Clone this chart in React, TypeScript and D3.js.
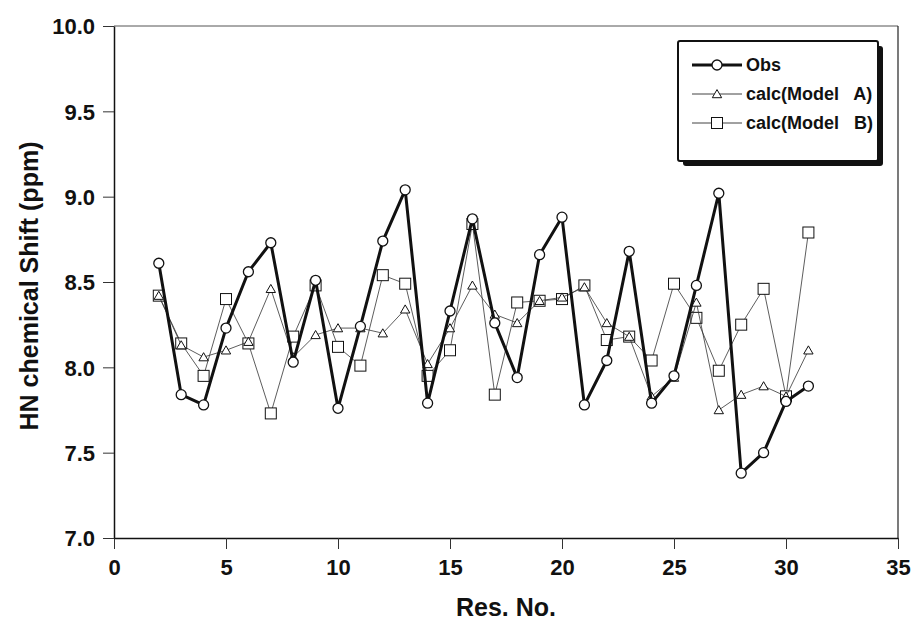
import React, { useEffect, useRef } from "react";
import * as d3 from "d3";

// residue numbers along the x axis
const resNo = [2, 3, 4, 5, 6, 7, 8, 9, 10, 11, 12, 13, 14, 15, 16, 17, 18, 19, 20, 21, 22, 23, 24, 25, 26, 27, 28, 29, 30, 31];

// observed HN shifts (ppm)
const obs = [8.61, 7.84, 7.78, 8.23, 8.56, 8.73, 8.03, 8.51, 7.76, 8.24, 8.74, 9.04, 7.79, 8.33, 8.87, 8.26, 7.94, 8.66, 8.88, 7.78, 8.04, 8.68, 7.79, 7.95, 8.48, 9.02, 7.38, 7.5, 7.8, 7.89];
// calculated, model A
const modelA = [8.42, 8.13, 8.06, 8.1, 8.15, 8.46, 8.06, 8.19, 8.23, 8.23, 8.2, 8.34, 8.02, 8.23, 8.48, 8.31, 8.26, 8.39, 8.41, 8.47, 8.26, 8.18, 7.83, 7.94, 8.38, 7.75, 7.84, 7.89, 7.83, 8.1];
// calculated, model B
const modelB = [8.42, 8.14, 7.95, 8.4, 8.14, 7.73, 8.18, 8.48, 8.12, 8.01, 8.54, 8.49, 7.95, 8.1, 8.84, 7.84, 8.38, 8.39, 8.4, 8.48, 8.16, 8.18, 8.04, 8.49, 8.29, 7.98, 8.25, 8.46, 7.83, 8.79];

const xTicks = [0, 5, 10, 15, 20, 25, 30, 35];
const yTicks = [7.0, 7.5, 8.0, 8.5, 9.0, 9.5, 10.0];
const legendLabels = ["Obs", "calc(Model   A)", "calc(Model   B)"];

const W = 911, H = 621;
const FONT = "'Liberation Sans', Arial, Helvetica, sans-serif";

export default function App() {
	const ref = useRef<SVGSVGElement>(null);

	useEffect(() => {
		const svg = d3.select(ref.current);
		svg.selectAll("*").remove();

		const left = 114, right = 898, top = 26, bottom = 538;
		const x = d3.scaleLinear().domain([0, 35]).range([left, right]);
		const y = d3.scaleLinear().domain([7, 10]).range([bottom, top]);

		svg.append("rect").attr("width", W).attr("height", H).attr("fill", "#fff");

		// frame (top + right), light
		svg.append("line").attr("x1", left).attr("x2", right).attr("y1", top).attr("y2", top)
			.attr("stroke", "#555").attr("stroke-width", 1);
		svg.append("line").attr("x1", right).attr("x2", right).attr("y1", top).attr("y2", bottom)
			.attr("stroke", "#222").attr("stroke-width", 1.2);

		// axes
		const xAxis = d3.axisBottom(x).tickValues(xTicks).tickSize(11).tickSizeOuter(0).tickFormat(d3.format("d"));
		const yAxis = d3.axisLeft(y).tickValues(yTicks).tickSize(11).tickSizeOuter(0).tickFormat(d3.format(".1f"));

		const gx = svg.append("g").attr("transform", `translate(0,${bottom})`).call(xAxis);
		const gy = svg.append("g").attr("transform", `translate(${left},0)`).call(yAxis);
		[gx, gy].forEach((g) => {
			g.select(".domain").attr("stroke", "#111").attr("stroke-width", 1.5);
			g.selectAll(".tick line").attr("stroke", "#333").attr("stroke-width", 1);
			g.selectAll(".tick text")
				.attr("fill", "#111")
				.style("font-family", FONT)
				.style("font-size", "22px")
				.style("font-weight", "bold");
		});
		gx.selectAll(".tick text").attr("dy", "1.05em");
		gy.selectAll(".tick text").attr("x", -19).attr("dy", "0.36em");

		// axis titles
		svg.append("text")
			.attr("x", (left + right) / 2).attr("y", 616)
			.attr("text-anchor", "middle")
			.style("font-family", FONT).style("font-size", "25px").style("font-weight", "bold")
			.attr("fill", "#111")
			.text("Res. No.");
		svg.append("text")
			.attr("transform", `translate(38,${(top + bottom) / 2 + 4}) rotate(-90)`)
			.attr("text-anchor", "middle")
			.style("font-family", FONT).style("font-size", "25px").style("font-weight", "bold")
			.attr("fill", "#111")
			.text("HN chemical Shift (ppm)");

		const line = d3.line<number>()
			.x((_, i) => x(resNo[i]))
			.y((d) => y(d));

		const tri = d3.symbol().type(d3.symbolTriangle).size(38);

		const drawSquares = (g, data: number[]) => {
			g.selectAll("rect.m").data(data).enter().append("rect")
				.attr("class", "m")
				.attr("x", (_, i) => x(resNo[i]) - 5.5).attr("y", (d) => y(d) - 5.5)
				.attr("width", 11).attr("height", 11)
				.attr("fill", "#fff").attr("stroke", "#111").attr("stroke-width", 1);
		};
		const drawTris = (g, data: number[]) => {
			g.selectAll("path.m").data(data).enter().append("path")
				.attr("class", "m")
				.attr("d", tri)
				.attr("transform", (d, i) => `translate(${x(resNo[i])},${y(d) + 1})`)
				.attr("fill", "#fff").attr("stroke", "#111").attr("stroke-width", 1);
		};
		const drawCircles = (g, data: number[]) => {
			g.selectAll("circle.m").data(data).enter().append("circle")
				.attr("class", "m")
				.attr("cx", (_, i) => x(resNo[i])).attr("cy", (d) => y(d))
				.attr("r", 5)
				.attr("fill", "#fff").attr("stroke", "#111").attr("stroke-width", 1.3);
		};

		// model B
		const gB = svg.append("g");
		gB.append("path").attr("d", line(modelB)).attr("fill", "none").attr("stroke", "#333").attr("stroke-width", 0.8);
		drawSquares(gB, modelB);

		// model A
		const gA = svg.append("g");
		gA.append("path").attr("d", line(modelA)).attr("fill", "none").attr("stroke", "#333").attr("stroke-width", 0.8);
		drawTris(gA, modelA);

		// observed
		const gO = svg.append("g");
		gO.append("path").attr("d", line(obs)).attr("fill", "none").attr("stroke", "#111").attr("stroke-width", 3)
			.attr("stroke-linejoin", "round");
		drawCircles(gO, obs);

		// legend box with drop shadow
		const lx = 678, ly = 41, lw = 200, lh = 120;
		svg.append("rect").attr("x", lx + 5).attr("y", ly + 5).attr("width", lw).attr("height", lh)
			.attr("rx", 3).attr("fill", "#111");
		svg.append("rect").attr("x", lx).attr("y", ly).attr("width", lw).attr("height", lh)
			.attr("rx", 2).attr("fill", "#fff").attr("stroke", "#111").attr("stroke-width", 2);

		const rowY = [65, 94, 123];
		const sx0 = 692, sx1 = 742, tx = 746;
		legendLabels.forEach((label, i) => {
			const yy = rowY[i];
			svg.append("line").attr("x1", sx0).attr("x2", sx1).attr("y1", yy).attr("y2", yy)
				.attr("stroke", "#111").attr("stroke-width", i === 0 ? 3 : 0.8);
			const mx = (sx0 + sx1) / 2;
			if (i === 0) {
				svg.append("circle").attr("cx", mx).attr("cy", yy).attr("r", 5)
					.attr("fill", "#fff").attr("stroke", "#111").attr("stroke-width", 1.3);
			} else if (i === 1) {
				svg.append("path").attr("d", tri).attr("transform", `translate(${mx},${yy + 1})`)
					.attr("fill", "#fff").attr("stroke", "#111").attr("stroke-width", 1);
			} else {
				svg.append("rect").attr("x", mx - 5.5).attr("y", yy - 5.5).attr("width", 11).attr("height", 11)
					.attr("fill", "#fff").attr("stroke", "#111").attr("stroke-width", 1);
			}
			svg.append("text").attr("x", tx).attr("y", yy).attr("dy", "0.36em")
				.style("font-family", FONT).style("font-size", "18px").style("font-weight", "bold")
				.style("white-space", "pre")
				.attr("fill", "#111")
				.text(label);
		});
	}, []);

	return (
		<svg ref={ref} width={W} height={H} style={{ position: "absolute", left: 0, top: 0, background: "#fff" }} />
	);
}
